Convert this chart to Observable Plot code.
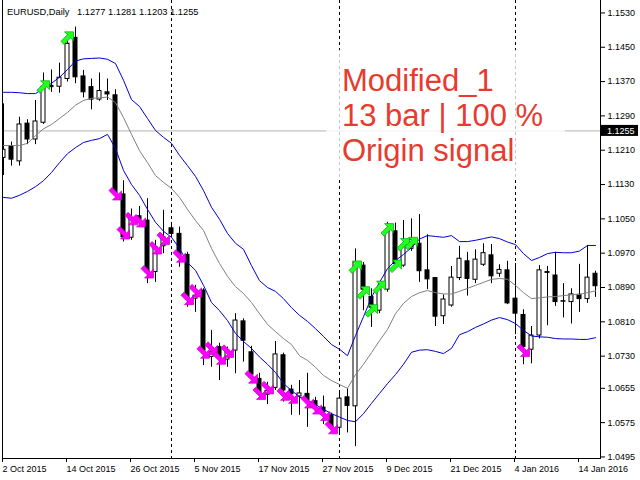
<!DOCTYPE html>
<html><head><meta charset="utf-8">
<script src="https://cdn.jsdelivr.net/npm/d3@7"></script>
<script src="https://cdn.jsdelivr.net/npm/@observablehq/plot@0.6"></script>
<style>
body{margin:0;background:#fff;}
#chart{width:640px;height:480px;}
svg{display:block;}
</style></head><body><div id="chart"></div>
<script>
// ---- data (EURUSD, Daily) ----
const dates = ["2015-10-02","2015-10-05","2015-10-06","2015-10-07","2015-10-08","2015-10-09",
"2015-10-12","2015-10-13","2015-10-14","2015-10-15","2015-10-16",
"2015-10-19","2015-10-20","2015-10-21","2015-10-22","2015-10-23",
"2015-10-26","2015-10-27","2015-10-28","2015-10-29","2015-10-30",
"2015-11-02","2015-11-03","2015-11-04","2015-11-05","2015-11-06",
"2015-11-09","2015-11-10","2015-11-11","2015-11-12","2015-11-13",
"2015-11-16","2015-11-17","2015-11-18","2015-11-19","2015-11-20",
"2015-11-23","2015-11-24","2015-11-25","2015-11-26","2015-11-27",
"2015-11-30","2015-12-01","2015-12-02","2015-12-03","2015-12-04",
"2015-12-07","2015-12-08","2015-12-09","2015-12-10","2015-12-11",
"2015-12-14","2015-12-15","2015-12-16","2015-12-17","2015-12-18",
"2015-12-21","2015-12-22","2015-12-23","2015-12-24",
"2015-12-28","2015-12-29","2015-12-30","2015-12-31",
"2016-01-04","2016-01-05","2016-01-06","2016-01-07","2016-01-08",
"2016-01-11","2016-01-12","2016-01-13","2016-01-14","2016-01-15",
"2016-01-18"];

const openP = [1.1192,1.1219,1.1184,1.1272,1.1235,1.1274,1.1360,1.1358,1.1376,1.1472,
1.1382,1.1357,1.1328,1.1345,1.1338,1.1107,1.1006,1.1056,1.1046,1.0926,
1.0986,1.1028,1.1015,1.0966,1.0864,1.0883,1.0728,1.0751,1.0722,1.0743,
1.0811,1.0739,1.0677,1.0640,1.0656,1.0732,1.0652,1.0636,1.0642,1.0625,
1.0610,1.0592,1.0563,1.0634,1.0613,1.0941,1.0868,1.0836,1.0885,1.1021,
1.0941,1.0980,1.0992,1.0930,1.0912,1.0823,1.0848,1.0912,1.0951,1.0908,
1.0943,1.0965,1.0922,1.0930,1.0864,1.0826,1.0745,1.0778,1.0924,1.0918,
1.0858,1.0856,1.0873,1.0863,1.0922];

const highP = [1.1318,1.1229,1.1287,1.1281,1.1326,1.1390,1.1397,1.1413,1.1481,1.1497,
1.1396,1.1376,1.1390,1.1376,1.1351,1.1139,1.1073,1.1079,1.1097,1.1000,
1.1070,1.1037,1.1031,1.0972,1.0895,1.0887,1.0790,1.0760,1.0751,1.0829,
1.0817,1.0753,1.0690,1.0669,1.0764,1.0737,1.0662,1.0673,1.0690,1.0634,
1.0637,1.0597,1.0644,1.0654,1.0980,1.0948,1.0887,1.0899,1.1042,1.1040,
1.1046,1.1050,1.1060,1.1013,1.0913,1.0873,1.0939,1.0986,1.0972,1.0978,
1.0992,1.0990,1.0943,1.0951,1.0946,1.0838,1.0799,1.0941,1.0939,1.0972,
1.0899,1.0887,1.0944,1.0988,1.0928];

const lowP = [1.1151,1.1173,1.1173,1.1223,1.1223,1.1270,1.1345,1.1343,1.1369,1.1365,
1.1332,1.1304,1.1324,1.1326,1.1102,1.0996,1.1000,1.1031,1.0899,1.0902,
1.0969,1.1009,1.0937,1.0844,1.0832,1.0708,1.0704,1.0673,1.0704,1.0689,
1.0716,1.0678,1.0634,1.0617,1.0650,1.0623,1.0592,1.0592,1.0564,1.0599,
1.0571,1.0557,1.0551,1.0551,1.0519,1.0836,1.0797,1.0829,1.0879,1.0934,
1.0937,1.0974,1.0902,1.0885,1.0799,1.0804,1.0844,1.0906,1.0870,1.0899,
1.0939,1.0899,1.0914,1.0850,1.0780,1.0710,1.0712,1.0770,1.0801,1.0846,
1.0819,1.0805,1.0832,1.0853,1.0867];

const closeP = [1.1211,1.1188,1.1270,1.1235,1.1277,1.1358,1.1357,1.1379,1.1458,1.1380,
1.1345,1.1328,1.1348,1.1340,1.1111,1.1007,1.1050,1.1048,1.0926,1.0984,
1.1007,1.1015,1.0965,1.0867,1.0871,1.0743,1.0739,1.0726,1.0743,1.0813,
1.0766,1.0687,1.0646,1.0649,1.0734,1.0650,1.0641,1.0643,1.0627,1.0614,
1.0599,1.0564,1.0631,1.0614,1.0949,1.0885,1.0843,1.0885,1.1021,1.0945,
1.0989,1.1001,1.0928,1.0909,1.0822,1.0862,1.0913,1.0957,1.0910,1.0955,
1.0970,1.0916,1.0931,1.0853,1.0829,1.0751,1.0778,1.0930,1.0926,1.0856,
1.0857,1.0874,1.0863,1.0913,1.0893];

const upperBand = [1.1345,1.1345,1.1344,1.1342,1.1342,1.1354,1.1366,1.1380,1.1398,1.1418,
1.1423,1.1424,1.1425,1.1422,1.1412,1.1373,1.1328,1.1312,1.1284,1.1256,
1.1240,1.1226,1.1198,1.1174,1.1149,1.1116,1.1077,1.1049,1.1016,1.0993,
1.0979,1.0941,1.0906,1.0890,1.0881,1.0864,1.0843,1.0825,1.0811,1.0794,
1.0776,1.0757,1.0746,1.0731,1.0778,1.0822,1.0867,1.0902,1.0934,1.0953,
1.0967,1.0983,1.1003,1.1011,1.1009,1.1007,1.1011,1.0997,1.0997,1.1000,
1.1004,1.1008,1.1004,1.0996,1.0990,1.0969,1.0953,1.0960,1.0969,1.0972,
1.0971,1.0971,1.0975,1.0988,1.0988];

const middleBand = [1.1221,1.1221,1.1221,1.1226,1.1244,1.1260,1.1270,1.1284,1.1298,1.1315,
1.1326,1.1331,1.1332,1.1334,1.1321,1.1286,1.1247,1.1209,1.1181,1.1151,
1.1135,1.1121,1.1100,1.1072,1.1046,1.1023,1.0981,1.0946,1.0916,1.0892,
1.0876,1.0855,1.0829,1.0804,1.0787,1.0771,1.0757,1.0731,1.0720,1.0704,
1.0685,1.0673,1.0664,1.0655,1.0687,1.0711,1.0738,1.0766,1.0792,1.0829,
1.0853,1.0869,1.0878,1.0883,1.0878,1.0875,1.0875,1.0881,1.0888,1.0895,
1.0902,1.0909,1.0911,1.0909,1.0895,1.0878,1.0864,1.0866,1.0868,1.0869,
1.0871,1.0873,1.0874,1.0878,1.0882];

const lowerBand = [1.1100,1.1098,1.1105,1.1114,1.1125,1.1139,1.1158,1.1181,1.1202,1.1216,
1.1228,1.1233,1.1237,1.1247,1.1214,1.1163,1.1130,1.1105,1.1072,1.1042,
1.1021,1.1007,1.0981,1.0948,1.0930,1.0895,1.0855,1.0836,1.0813,1.0783,
1.0764,1.0748,1.0728,1.0711,1.0692,1.0666,1.0650,1.0635,1.0627,1.0617,
1.0606,1.0596,1.0588,1.0580,1.0577,1.0596,1.0620,1.0643,1.0666,1.0687,
1.0711,1.0739,1.0744,1.0745,1.0741,1.0736,1.0748,1.0780,1.0787,1.0797,
1.0805,1.0814,1.0820,1.0815,1.0806,1.0790,1.0777,1.0775,1.0774,1.0771,
1.0770,1.0770,1.0769,1.0769,1.0773];

const buyIdx   = [5,8,44,45,46,47,48,49,50,51];
const buyPrice = [1.1358,1.1472,1.0938,1.0878,1.0836,1.0891,1.1025,1.0940,1.0990,1.0993];
const sellIdx   = [14,15,16,17,18,19,20,22,23,24,25,26,27,28,31,32,33,35,36,38,39,40,41,65];
const sellPrice = [1.1108,1.1017,1.1050,1.1045,1.0926,1.0982,1.1004,1.0963,1.0864,1.0882,1.0739,1.0748,1.0725,1.0741,1.0681,1.0643,1.0656,1.0641,1.0634,1.0623,1.0609,1.0594,1.0563,1.0743];

const separatorIdx = [21,42,64];
const xTickIdx = [0,8,16,24,32,40,48,56,64,72];
const xTickLabels = ["2 Oct 2015","14 Oct 2015","26 Oct 2015","5 Nov 2015","17 Nov 2015","27 Nov 2015","9 Dec 2015","21 Dec 2015","4 Jan 2016","14 Jan 2016"];
const yTicks = [1.1530,1.1450,1.1370,1.1290,1.1210,1.1130,1.1050,1.0970,1.0890,1.0810,1.0730,1.0655,1.0575,1.0495];
const lastPrice = 1.1255;
const headerSymbol = "EURUSD,Daily";
const headerOHLC = [1.1277,1.1281,1.1203,1.1255];
const noteLines = ["Modified_1","13 bar | 100 %","Origin signal"];

// ---- build tables ----
const bars = openP.map((o,i)=>({i, date:dates[i], open:o, high:highP[i], low:lowP[i], close:closeP[i]}));
const bands = upperBand.map((u,i)=>({i, upper:u, middle:middleBand[i], lower:lowerBand[i]}));
const buys = buyIdx.map((i,k)=>({i, price:buyPrice[k]}));
const sells = sellIdx.map((i,k)=>({i, price:sellPrice[k]}));

// thick diagonal arrow glyphs (MT4 style)
const arrowUp = {draw(c){c.moveTo(6,-6);c.lineTo(6,3);c.lineTo(3.06,0.06);c.lineTo(-3.44,6.56);c.lineTo(-6.56,3.44);c.lineTo(-0.06,-3.06);c.lineTo(-3,-6);c.closePath();}};
const arrowDown = {draw(c){c.moveTo(6,6);c.lineTo(6,-3);c.lineTo(3.06,-0.06);c.lineTo(-3.44,-6.56);c.lineTo(-6.56,-3.44);c.lineTo(-0.06,3.06);c.lineTo(-3,6);c.closePath();}};

const FONT = "'Liberation Sans', Arial, sans-serif";

const plot = Plot.plot({
  width: 640, height: 480,
  marginLeft: 2, marginRight: 40, marginTop: 0, marginBottom: 22,
  x: {type: "linear", domain: [-0.125, 74.625], axis: null, label: null},
  y: {domain: [1.04914, 1.1559], axis: null, label: null},
  style: {fontFamily: FONT, fontSize: "9px", background: "#fff", color: "#000", overflow: "visible"},
  marks: [
    Plot.ruleY([lastPrice], {stroke: "#b4b4b4"}),
    Plot.ruleX(separatorIdx, {x: d => d, stroke: "#000", strokeDasharray: "3,3"}),
    Plot.ruleX(bars, {x: "i", y1: "low", y2: "high", stroke: "#000", clip: true}),
    Plot.rect(bars, {x1: d => d.i - 0.25, x2: d => d.i + 0.25, y1: "open", y2: "close",
      fill: d => d.close >= d.open ? "#ffffff" : "#000000", stroke: "#000", clip: true}),
    Plot.line(bands, {x: "i", y: "middle", stroke: "#808080", strokeWidth: 1}),
    Plot.line(bands, {x: "i", y: "upper", stroke: "#0000d0", strokeWidth: 1}),
    Plot.line(bands, {x: "i", y: "lower", stroke: "#0000d0", strokeWidth: 1}),
    Plot.dot(buys, {x: "i", y: "price", symbol: arrowUp, fill: "#22ff22", stroke: "#00a800", strokeWidth: 0.7}),
    Plot.dot(sells, {x: "i", y: "price", symbol: arrowDown, fill: "#ff00ff", stroke: "#c000c0", strokeWidth: 0.7}),
    Plot.axisY(yTicks, {anchor: "right", label: null, tickSize: 4, tickPadding: 3, tickFormat: d3.format(".4f"), fill: "#000"}),
    Plot.axisX(xTickIdx, {anchor: "bottom", label: null, tickSize: 4, tickPadding: 3, textAnchor: "start", dx: -1,
      tickFormat: i => xTickLabels[xTickIdx.indexOf(i)], fill: "#000"}),
    Plot.frame({anchor: "left", stroke: "#000"}),
    Plot.frame({anchor: "bottom", stroke: "#000"}),
    Plot.frame({anchor: "right", stroke: "#000"})
  ]
});
document.getElementById("chart").appendChild(plot);

// ---- decorations ----
const svg = d3.select(plot);
const yS = plot.scale("y");
const py = yS.apply(lastPrice);
const deco = svg.append("g").attr("text-anchor", "start").attr("font-family", FONT);
// current price label
deco.append("rect").attr("x", 601).attr("y", py - 5.5).attr("width", 37).attr("height", 11).attr("fill", "#000");
deco.append("text").attr("x", 607).attr("y", py + 3.3).attr("fill", "#fff").attr("font-size", 9)
  .text(d3.format(".4f")(lastPrice));
// header
deco.append("text").attr("x", 7).attr("y", 15).attr("fill", "#000").attr("font-size", 9.3).text(headerSymbol);
deco.append("text").attr("x", 77).attr("y", 15).attr("fill", "#000").attr("font-size", 9.3)
  .text(headerOHLC.map(d3.format(".4f")).join(" "));
// text box
deco.append("rect").attr("x", 326).attr("y", 50).attr("width", 239).attr("height", 130)
  .attr("fill", "#fff").attr("fill-opacity", 0.77);
noteLines.forEach((t, k) => {
  deco.append("text").attr("x", 342).attr("y", 90.5 + k * 35.2)
    .attr("fill", "#e63b2e").attr("font-size", 31).text(t);
});
</script></body></html>
